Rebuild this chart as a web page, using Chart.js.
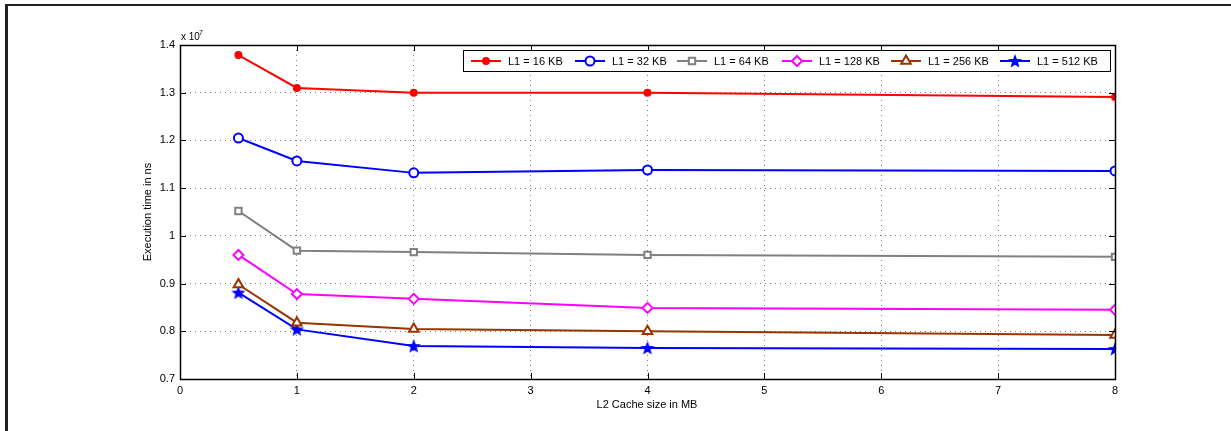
<!DOCTYPE html>
<html>
<head>
<meta charset="utf-8">
<script src="https://cdn.jsdelivr.net/npm/chart.js@4.4.0/dist/chart.umd.min.js"></script>
<style>
  html, body { margin: 0; padding: 0; background: #fff; }
  #wrap { position: relative; width: 1231px; height: 431px; overflow: hidden; }
  #grafico { position: absolute; left: 0; top: 0; }
  #frame { position: absolute; left: 5px; top: 4px; right: 0; bottom: -5px;
           border-top: 2px solid #231f20; border-left: 3px solid #231f20; pointer-events: none; }
</style>
</head>
<body>
<div id="wrap">
  <canvas id="grafico" width="1231" height="431"></canvas>
  <div id="frame"></div>
</div>
<script>
// Dados (tempo de execução em unidades de 10^7 ns)
const tamanhosL2 = [0.5, 1, 2, 4, 8]
const rotulosL1 = ['L1 = 16 KB', 'L1 = 32 KB', 'L1 = 64 KB', 'L1 = 128 KB', 'L1 = 256 KB', 'L1 = 512 KB']
const tempoL1_16 = [1.379, 1.310, 1.300, 1.300, 1.291]
const tempoL1_32 = [1.205, 1.157, 1.132, 1.138, 1.136]
const tempoL1_64 = [1.052, 0.969, 0.966, 0.960, 0.956]
const tempoL1_128 = [0.960, 0.878, 0.868, 0.849, 0.845]
const tempoL1_256 = [0.898, 0.818, 0.805, 0.800, 0.792]
const tempoL1_512 = [0.881, 0.804, 0.769, 0.765, 0.763]
const ticksX = [0, 1, 2, 3, 4, 5, 6, 7, 8]
const ticksY = [0.7, 0.8, 0.9, 1.0, 1.1, 1.2, 1.3, 1.4]

const fonte = '"Liberation Sans", Arial, Helvetica, sans-serif'

// estrela preenchida (marcador '*' do MATLAB parece um pentagrama)
function criarEstrela(cor) {
    const c = document.createElement('canvas')
    c.width = 16
    c.height = 16
    const g = c.getContext('2d')
    g.beginPath()
    for (let i = 0; i < 10; i++) {
        const r = i % 2 === 0 ? 7.5 : 3.2
        const a = -Math.PI / 2 + i * Math.PI / 5
        const px = 8 + r * Math.cos(a)
        const py = 8.5 + r * Math.sin(a)
        if (i === 0) g.moveTo(px, py); else g.lineTo(px, py)
    }
    g.closePath()
    g.fillStyle = cor
    g.fill()
    return c
}
const estrelaAzul = criarEstrela('#0000ff')

function pontos(valores) {
    return tamanhosL2.map((x, i) => ({ x: x, y: valores[i] }))
}

const series = [
    { label: rotulosL1[0], data: pontos(tempoL1_16), borderColor: '#ff0000', backgroundColor: '#ff0000', pointStyle: 'circle', pointRadius: 3 },
    { label: rotulosL1[1], data: pontos(tempoL1_32), borderColor: '#0000ff', backgroundColor: '#ffffff', pointStyle: 'circle', pointRadius: 4.5 },
    { label: rotulosL1[2], data: pontos(tempoL1_64), borderColor: '#808080', backgroundColor: '#ffffff', pointStyle: 'rect', pointRadius: 4.5 },
    { label: rotulosL1[3], data: pontos(tempoL1_128), borderColor: '#ff00ff', backgroundColor: '#ffffff', pointStyle: 'rectRot', pointRadius: 5 },
    { label: rotulosL1[4], data: pontos(tempoL1_256), borderColor: '#993300', backgroundColor: '#ffffff', pointStyle: 'triangle', pointRadius: 5.5 },
    { label: rotulosL1[5], data: pontos(tempoL1_512), borderColor: '#0000ff', backgroundColor: '#0000ff', pointStyle: estrelaAzul, pointRadius: 7 }
]
series.forEach(s => {
    s.borderWidth = 2
    s.pointBorderWidth = 2
    s.pointHoverRadius = s.pointRadius
    s.tension = 0
    s.fill = false
})

// caixa do gráfico, ticks internos, legenda e títulos
const estiloMatlab = {
    id: 'estiloMatlab',
    afterDatasetsDraw(chart) {
        const ctx = chart.ctx
        const a = chart.chartArea
        const sx = chart.scales.x
        const sy = chart.scales.y
        ctx.save()
        ctx.setLineDash([])
        ctx.strokeStyle = '#000'
        ctx.lineWidth = 1
        // ticks internos
        ctx.beginPath()
        ticksX.forEach(v => {
            const px = Math.round(sx.getPixelForValue(v)) + 0.5
            ctx.moveTo(px, a.bottom); ctx.lineTo(px, a.bottom - 6)
            ctx.moveTo(px, a.top); ctx.lineTo(px, a.top + 6)
        })
        ticksY.forEach(v => {
            const py = Math.round(sy.getPixelForValue(v)) + 0.5
            ctx.moveTo(a.left, py); ctx.lineTo(a.left + 6, py)
            ctx.moveTo(a.right, py); ctx.lineTo(a.right - 6, py)
        })
        ctx.stroke()
        ctx.lineWidth = 1.5
        ctx.strokeRect(Math.round(a.left) + 0.5, Math.round(a.top) + 0.5, Math.round(a.right - a.left), Math.round(a.bottom - a.top))

        // legenda
        const lx = 463.5, ly = 50.5, lw = 647, lh = 21
        ctx.fillStyle = '#fff'
        ctx.fillRect(lx, ly, lw, lh)
        ctx.lineWidth = 1
        ctx.strokeStyle = '#000'
        ctx.strokeRect(lx, ly, lw, lh)
        const posX = [471, 575, 677, 782, 891, 1000]
        const yMeio = ly + lh / 2
        ctx.font = '11px ' + fonte
        ctx.textBaseline = 'middle'
        ctx.textAlign = 'left'
        series.forEach((s, i) => {
            const x0 = posX[i]
            ctx.strokeStyle = s.borderColor
            ctx.lineWidth = 2
            ctx.beginPath()
            ctx.moveTo(x0, yMeio)
            ctx.lineTo(x0 + 30, yMeio)
            ctx.stroke()
            const el = chart.getDatasetMeta(i).data[0]
            if (Chart.helpers && Chart.helpers.drawPoint && el) {
                ctx.fillStyle = el.options.backgroundColor
                ctx.strokeStyle = el.options.borderColor
                ctx.lineWidth = el.options.borderWidth
                Chart.helpers.drawPoint(ctx, el.options, x0 + 15, yMeio)
            }
            ctx.fillStyle = '#000'
            ctx.fillText(s.label, x0 + 37, yMeio + 0.5)
        })

        // títulos
        ctx.fillStyle = '#000'
        ctx.font = '11px ' + fonte
        ctx.textAlign = 'center'
        ctx.textBaseline = 'middle'
        ctx.fillText('L2 Cache size in MB', 647, 405)
        ctx.save()
        ctx.translate(148, 212)
        ctx.rotate(-Math.PI / 2)
        ctx.fillText('Execution time in ns', 0, 0)
        ctx.restore()
        ctx.textAlign = 'left'
        ctx.textBaseline = 'alphabetic'
        ctx.font = '10px ' + fonte
        ctx.fillText('x 10', 181, 40)
        ctx.font = '7px ' + fonte
        ctx.fillText('7', 199, 35)
        ctx.restore()
    }
}

const ctxGrafico = document.getElementById('grafico')
new Chart(ctxGrafico, {
    type: 'line',
    data: { datasets: series },
    options: {
        responsive: false,
        animation: false,
        devicePixelRatio: 1,
        layout: { padding: { top: 45, right: 116, left: 0, bottom: 0 } },
        plugins: {
            legend: { display: false },
            tooltip: { enabled: false }
        },
        scales: {
            x: {
                type: 'linear',
                min: 0,
                max: 8,
                afterBuildTicks: s => { s.ticks = ticksX.map(v => ({ value: v })) },
                afterFit: s => { s.height = 52 },
                ticks: { color: '#000', font: { family: fonte, size: 11 }, padding: 5, maxRotation: 0 },
                grid: { color: 'rgba(0,0,0,0.5)', drawTicks: false, lineWidth: 1 },
                border: { display: false, dash: [1, 4] }
            },
            y: {
                type: 'linear',
                min: 0.7,
                max: 1.4,
                afterBuildTicks: s => { s.ticks = ticksY.map(v => ({ value: v })) },
                afterFit: s => { s.width = 180 },
                ticks: {
                    color: '#000',
                    font: { family: fonte, size: 11 },
                    padding: 5,
                    callback: v => (Math.abs(v - 1) < 1e-9 ? '1' : v.toFixed(1))
                },
                grid: { color: 'rgba(0,0,0,0.5)', drawTicks: false, lineWidth: 1 },
                border: { display: false, dash: [1, 4] }
            }
        }
    },
    plugins: [estiloMatlab]
})
</script>
</body>
</html>
